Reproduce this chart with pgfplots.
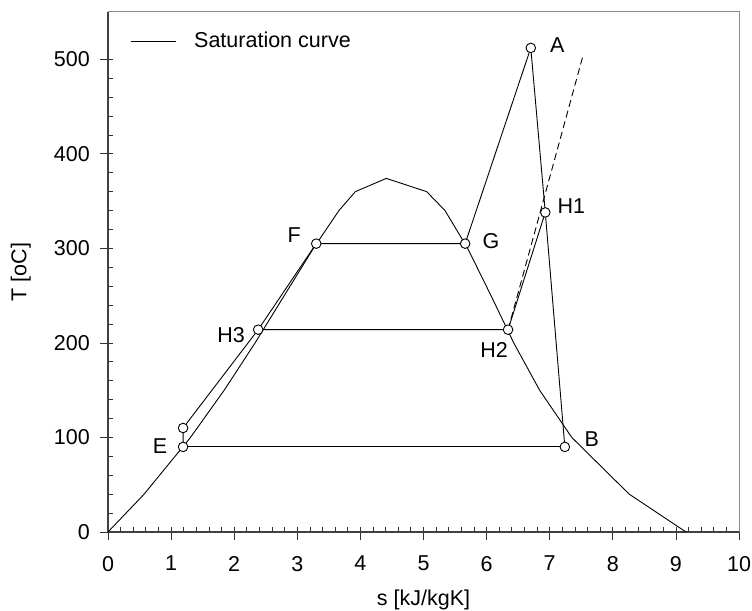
\documentclass[border=0pt]{standalone}
\usepackage{fontspec}
\setmainfont{Liberation Sans}
\usepackage{pgfplots}
\pgfplotsset{compat=1.18}
\pgfplotstableread{
s T
0 0
0.572 40
1.307 100
1.842 150
2.331 200
2.793 250
3.255 300
3.66 340
3.92 360
4.41 374
5.05 360
5.34 340
5.70 300
6.07 250
6.43 200
6.84 150
7.35 100
8.26 40
9.16 0
}\satcurve
\begin{document}
\fontsize{21.5bp}{25bp}\selectfont
\begin{tikzpicture}
\path[use as bounding box] (0bp,0bp) rectangle (752bp,611bp);
\begin{axis}[
  at={(108bp,79bp)}, anchor=south west,
  scale only axis, width=631bp, height=520bp,
  xmin=0, xmax=10, ymin=0, ymax=550,
  xtick={0,...,10}, ytick={0,100,...,500},
  minor x tick num=4, minor y tick num=4,
  tick align=inside, major tick length=5bp, minor tick length=5bp,
  axis x line*=bottom, axis y line*=left,
  axis line style={-, draw=black!75, line width=1.4bp},
  tick style={black!80, line width=0.8bp},
  extra x ticks={0,...,10}, extra y ticks={0,100,...,500},
  extra x tick labels={}, extra y tick labels={},
  extra tick style={tick align=outside, major tick length=8bp},
  /pgf/number format/assume math mode=true,
  every tick label/.append style={inner sep=0pt, font=\fontsize{21.5bp}{25bp}\selectfont},
  yticklabel shift=18bp, xticklabel shift=24bp,
  xlabel={s [kJ/kgK]}, ylabel={T [oC]},
  xlabel style={at={(axis description cs:0.5,-0.1308)}, anchor=center},
  ylabel style={at={(axis description cs:-0.138,0.5)}, anchor=center},
  legend style={draw=none, fill=none, at={(axis description cs:0.035,0.944)}, anchor=west,
    inner sep=0pt, nodes={inner sep=2bp}},
  legend image code/.code={\draw[#1] (0bp,0bp) -- (45bp,0bp);},
  legend cell align=left,
  clip=false,
]
\addplot[black, line width=0.9bp] table[x=s,y=T] {\satcurve};
\addlegendentry{\hspace{16bp}Saturation curve}
% cycle lines
\addplot[black, line width=0.9bp, forget plot] coordinates {(1.19,90) (7.24,90)};
\addplot[black, line width=0.9bp, forget plot] coordinates {(1.19,90) (1.19,110) (2.38,214) (3.30,305) (5.66,305) (6.70,512) (6.93,338) (7.24,90)};
\addplot[black, line width=0.9bp, forget plot] coordinates {(2.38,214) (6.34,214) (6.93,338)};
\addplot[black, line width=0.9bp, dash pattern=on 7bp off 4bp, forget plot] coordinates {(6.34,214) (7.52,502)};
% markers
\addplot[only marks, mark=*, mark size=4.8bp, mark options={fill=white, draw=black, line width=0.9bp}, forget plot]
  coordinates {(6.70,512) (5.66,305) (3.30,305) (6.93,338) (6.34,214) (2.38,214) (1.19,90) (1.19,110) (7.24,90)};
% labels
\node[anchor=west, xshift=12bp, yshift=3bp] at (axis cs:6.70,512) {A};
\node[anchor=west, xshift=10bp, yshift=3bp] at (axis cs:5.66,305) {G};
\node[anchor=center, xshift=-22bp, yshift=9bp] at (axis cs:3.30,305) {F};
\node[anchor=center, xshift=26bp, yshift=6bp] at (axis cs:6.93,338) {H1};
\node[anchor=center, xshift=-14bp, yshift=-20bp] at (axis cs:6.34,214) {H2};
\node[anchor=center, xshift=-27bp, yshift=-5bp] at (axis cs:2.38,214) {H3};
\node[anchor=center, xshift=-23bp, yshift=1bp] at (axis cs:1.19,90) {E};
\node[anchor=center, xshift=27bp, yshift=8bp] at (axis cs:7.24,90) {B};
% frame top/right
\draw[black!45, line width=1bp] (rel axis cs:0,1) -- (rel axis cs:1,1) -- (rel axis cs:1,0);
\end{axis}
\end{tikzpicture}
\end{document}
